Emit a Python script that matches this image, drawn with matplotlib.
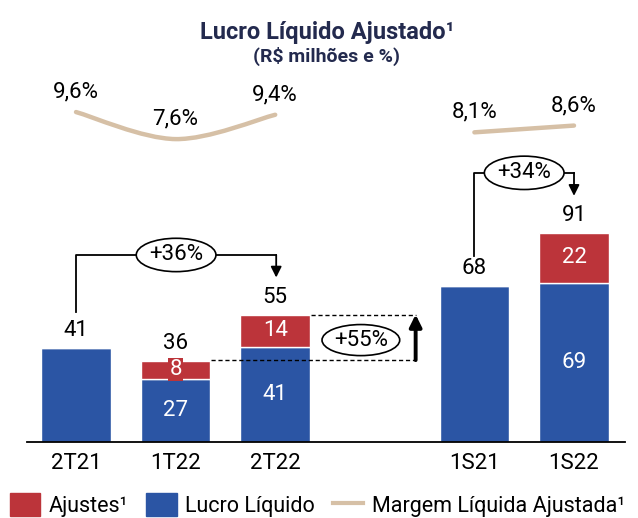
import numpy as np
import matplotlib
matplotlib.use('Agg')
import matplotlib.pyplot as plt
from matplotlib.patches import Ellipse, Patch
from matplotlib.lines import Line2D
from matplotlib.path import Path
from matplotlib.patches import PathPatch

plt.rcParams['font.family'] = ['Roboto', 'DejaVu Sans']

# Dados
periodos = ['2T21', '1T22', '2T22', '1S21', '1S22']
posicoes = [0, 1, 2, 4, 5]
lucro_liquido = [41, 27.4, 41.4, 68, 69]
ajustes = [0, 8, 14, 0, 22]
totais = ['41', '36', '55', '68', '91']
rotulos_lucro = ['', '27', '41', '', '69']
rotulos_ajustes = ['', '8', '14', '', '22']
margem_tri = [9.6, 7.6, 9.4]
margem_sem = [8.1, 8.6]
rotulos_margem = ['9,6%', '7,6%', '9,4%', '8,1%', '8,6%']

AZUL = '#2B55A4'
VERMELHO = '#BC343A'
BEGE = '#D6C0A6'
NAVY = '#232A4E'
FS = 16

W, H = 638, 518
fig = plt.figure(figsize=(W / 100, H / 100), dpi=100)

# eixo principal (barras)
ax = fig.add_axes([27 / W, (H - 442) / H, 598 / W, (442 - 70) / H])
ax.set_xlim(-0.492, 5.512)
ax.set_ylim(0, 161.7)

larg = 0.7
ax.bar(posicoes, lucro_liquido, width=larg, color=AZUL,
       edgecolor='white', linewidth=1, zorder=2)
ax.bar(posicoes, ajustes, width=larg, bottom=lucro_liquido, color=VERMELHO,
       edgecolor='white', linewidth=1, zorder=2)

for i, x in enumerate(posicoes):
    topo = lucro_liquido[i] + ajustes[i]
    ax.text(x, topo + 7.5, totais[i], ha='center', va='center', fontsize=FS)
    if rotulos_lucro[i]:
        ax.text(x, lucro_liquido[i] / 2, rotulos_lucro[i], ha='center',
                va='center', fontsize=FS, color='white')
    if rotulos_ajustes[i]:
        caixa = None
        if ajustes[i] < 10:
            caixa = dict(boxstyle='square,pad=0.05', fc=VERMELHO, ec='none')
        ax.text(x, lucro_liquido[i] + ajustes[i] / 2, rotulos_ajustes[i],
                ha='center', va='center', fontsize=FS, color='white',
                bbox=caixa, zorder=3)

ax.set_xticks(posicoes)
ax.set_xticklabels(periodos, fontsize=FS)
ax.tick_params(axis='x', length=0, pad=8)
ax.set_yticks([])
for s in ['top', 'right', 'left']:
    ax.spines[s].set_visible(False)
ax.spines['bottom'].set_linewidth(1.3)

# colchetes de crescimento
def colchete(x0, x1, y0, ytopo, yseta, texto):
    ax.plot([x0, x0, x1], [y0, ytopo, ytopo], color='black', lw=1.3, zorder=3)
    ax.annotate('', xy=(x1, yseta), xytext=(x1, ytopo),
                arrowprops=dict(arrowstyle='-|>', color='black', lw=1.3,
                                mutation_scale=16, shrinkA=0, shrinkB=0))
    xm = (x0 + x1) / 2
    ax.add_patch(Ellipse((xm, ytopo), 0.8, 14.5, fc='white', ec='black',
                         lw=1.2, zorder=4))
    ax.text(xm, ytopo, texto, ha='center', va='center', fontsize=FS, zorder=5)

colchete(0, 2.01, 56.5, 81.3, 71.5, '+36%')
colchete(4, 5, 81, 117, 107, '+34%')

# +55%
xs = 3.41
ax.plot([1.36, xs], [35.6, 35.6], color='black', lw=1, ls=(0, (3, 2)))
ax.plot([2.36, xs], [55.4, 55.4], color='black', lw=1, ls=(0, (3, 2)))
ax.annotate('', xy=(xs, 55.4), xytext=(xs, 35.6),
            arrowprops=dict(arrowstyle='-|>', color='black', lw=2.8,
                            mutation_scale=18, shrinkA=0, shrinkB=0))
ax.add_patch(Ellipse((2.86, 44.3), 0.78, 13.5, fc='white', ec='black', lw=1.2))
ax.text(2.86, 44.3, '+55%', ha='center', va='center', fontsize=FS)

# margem liquida (eixo secundario)
ax2 = ax.twinx()
ax2.set_ylim(-14.8, 12.71)
ax2.axis('off')


def curva_suave(xv, yv):
    pts = list(zip(xv, yv))
    verts = [pts[0]]
    codes = [Path.MOVETO]
    for k in range(len(pts) - 1):
        p0 = pts[k - 1] if k > 0 else pts[k]
        p1, p2 = pts[k], pts[k + 1]
        p3 = pts[k + 2] if k + 2 < len(pts) else pts[k + 1]
        c1 = (p1[0] + (p2[0] - p0[0]) / 6, p1[1] + (p2[1] - p0[1]) / 6)
        c2 = (p2[0] - (p3[0] - p1[0]) / 6, p2[1] - (p3[1] - p1[1]) / 6)
        verts += [c1, c2, p2]
        codes += [Path.CURVE4] * 3
    return Path(verts, codes)


ax2.add_patch(PathPatch(curva_suave(posicoes[:3], margem_tri), fc='none',
                        ec=BEGE, lw=3.2, capstyle='round'))
ax2.add_patch(PathPatch(curva_suave(posicoes[3:], margem_sem), fc='none',
                        ec=BEGE, lw=3.2, capstyle='round'))
for x, v, r in zip(posicoes, margem_tri + margem_sem, rotulos_margem):
    ax2.annotate(r, (x, v), xytext=(0, 14.5), textcoords='offset points',
                 ha='center', va='center', fontsize=FS)

# titulo
fig.text(327 / W, 1 - 33 / H, 'Lucro Líquido Ajustado¹', ha='center',
         va='center', fontsize=17, fontweight='bold', color=NAVY)
fig.text(327 / W, 1 - 56 / H, '(R$ milhões e %)', ha='center',
         va='center', fontsize=14, fontweight='bold', color=NAVY)

# legenda
handles = [Patch(color=VERMELHO, label='Ajustes¹'),
           Patch(color=AZUL, label='Lucro Líquido'),
           Line2D([], [], color=BEGE, lw=3, label='Margem Líquida Ajustada¹')]
fig.legend(handles=handles, loc='center left',
           bbox_to_anchor=(10 / W, 1 - 505 / H),
           ncol=3, frameon=False, fontsize=15.5, handlelength=1.4,
           handleheight=1.25, handletextpad=0.4, columnspacing=0.85,
           borderpad=0, borderaxespad=0)

fig.savefig('out.png', dpi=100)
